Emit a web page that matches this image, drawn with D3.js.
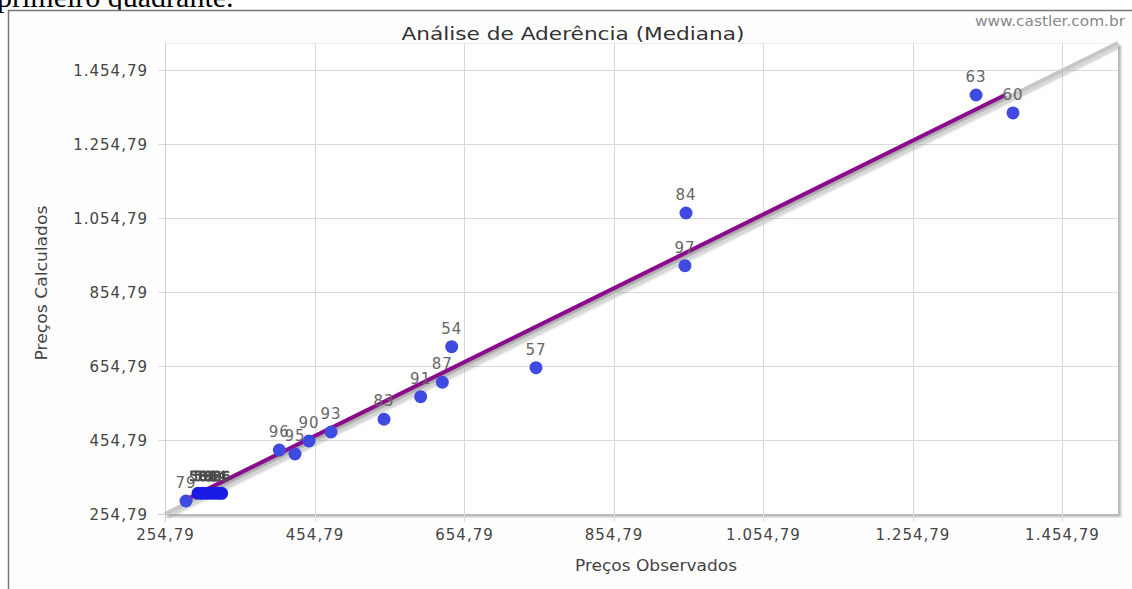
<!DOCTYPE html>
<html><head><meta charset="utf-8">
<script src="https://cdn.jsdelivr.net/npm/d3@7"></script>
<style>
html,body{margin:0;padding:0;background:#fff;overflow:hidden;}
svg{display:block;}
</style></head>
<body>
<svg id="chart" width="1132" height="589"></svg>
<script>
// ---- data ----
const pointIds  = ["63","60","84","97","54","57","87","91","83","93","90","95","96","79","58","59","61","62","64","66"];
const observed  = [1339.8,1389.2,951.8,950.4,638.3,751.1,625.8,596.8,547.8,476.9,447.4,428.7,407.7,282.9,299.0,305.5,312.0,318.5,325.0,330.5];
const calculated= [1387.2,1338.6,1068.3,925.8,707.0,650.3,610.8,571.8,510.8,476.4,452.1,417.0,427.8,289.9,310.7,310.7,310.7,310.7,310.7,310.7];
const tickValues = [254.79,454.79,654.79,854.79,1054.79,1254.79,1454.79];
const xDomain = [254.79,1529.7];
const yDomain = [254.79,1527.7];
const fitX = [282.9,1378.5];      // regression line endpoints (observed)
const fitY = [293.6,1387.2];      // regression line endpoints (calculated)
const clusterIds = ["58","59","61","62","64","66"];

const svg = d3.select("#chart");
const W = 1132, H = 589;
const loc = d3.formatLocale({decimal:",", thousands:".", grouping:[3], currency:["R$",""]});
const fmt = loc.format(",.2f");
const SANS = "'DejaVu Sans',Verdana,sans-serif";

// document text above the chart box (cut off)
svg.append("text").attr("x",-3).attr("y",7)
  .style("font-family","'Liberation Serif',serif").style("font-size","30px").attr("fill","#000")
  .text("primeiro quadrante.");

// chart container
svg.append("rect").attr("x",8.5).attr("y",10.5).attr("width",W+20).attr("height",H+20)
  .attr("fill","#fefefe").attr("stroke","#777").attr("stroke-width",1.5);

const x = d3.scaleLinear().domain(xDomain).range([165,1118]);
const y = d3.scaleLinear().domain(yDomain).range([514,43]);

const defs = svg.append("defs");
const f = defs.append("filter").attr("id","blur").attr("x","-5%").attr("y","-5%").attr("width","110%").attr("height","110%");
f.append("feGaussianBlur").attr("stdDeviation",1.2);
const f2 = defs.append("filter").attr("id","lblur");
f2.append("feGaussianBlur").attr("stdDeviation",0.6);

const x0 = x.range()[0], x1 = x.range()[1], y0 = y.range()[0], y1 = y.range()[1];

// plot shadow
svg.append("rect").attr("x",x0+3).attr("y",y1+3).attr("width",x1-x0).attr("height",y0-y1)
  .attr("fill","#b8b8b8").attr("filter","url(#blur)");
svg.append("rect").attr("x",x0).attr("y",y1).attr("width",x1-x0).attr("height",y0-y1)
  .attr("fill","#fff");
svg.append("line").attr("x1",x0).attr("x2",x1).attr("y1",y1+0.5).attr("y2",y1+0.5).attr("stroke","#eee");

// grid
const grid = svg.append("g");
grid.selectAll(".vg").data(tickValues.slice(1)).join("line")
  .attr("x1",d=>Math.round(x(d))+0.5).attr("x2",d=>Math.round(x(d))+0.5)
  .attr("y1",y1).attr("y2",y0+8).attr("stroke","#d9d9d9");
grid.selectAll(".hg").data(tickValues.slice(1)).join("line")
  .attr("y1",d=>Math.round(y(d))+0.5).attr("y2",d=>Math.round(y(d))+0.5)
  .attr("x1",x0-7).attr("x2",x1).attr("stroke","#d9d9d9");
svg.append("line").attr("x1",x0+0.5).attr("x2",x0+0.5).attr("y1",y1).attr("y2",y0+8).attr("stroke","#d0d0d0");
svg.append("line").attr("x1",x0-7).attr("x2",x0).attr("y1",y0+0.5).attr("y2",y0+0.5).attr("stroke","#d0d0d0");

// axes labels via d3 axes
const xAxis = svg.append("g").attr("transform",`translate(0,${y0})`)
  .call(d3.axisBottom(x).tickValues(tickValues).tickFormat(fmt).tickSize(0).tickPadding(15));
const yAxis = svg.append("g").attr("transform",`translate(${x0},0)`)
  .call(d3.axisLeft(y).tickValues(tickValues).tickFormat(fmt).tickSize(0).tickPadding(17));
[xAxis,yAxis].forEach(a=>{
  a.select(".domain").remove();
  a.selectAll("text").style("font-family",SANS).style("font-size","15px")
    .style("letter-spacing","1px").attr("fill","#444");
});
xAxis.selectAll("text").attr("dy","0.71em");
yAxis.selectAll("text").attr("dy","0.35em");

// reference line y = x (gray, with shadow)
svg.append("line").attr("x1",x0+2).attr("y1",y0+3).attr("x2",x1+2).attr("y2",y1+3)
  .attr("stroke","#999").attr("stroke-width",4).attr("opacity",0.45).attr("filter","url(#blur)");
svg.append("line").attr("x1",x0).attr("y1",y0).attr("x2",x1).attr("y2",y1)
  .attr("stroke","#c6c6c6").attr("stroke-width",4);

// regression line (purple)
svg.append("line").attr("x1",x(fitX[0])+1).attr("y1",y(fitY[0])+2).attr("x2",x(fitX[1])+1).attr("y2",y(fitY[1])+2)
  .attr("stroke","#555").attr("stroke-width",3.5).attr("opacity",0.3).attr("filter","url(#blur)");
svg.append("line").attr("x1",x(fitX[0])).attr("y1",y(fitY[0])).attr("x2",x(fitX[1])).attr("y2",y(fitY[1]))
  .attr("stroke","#8c0a8c").attr("stroke-width",4);

// points
const pts = pointIds.map((id,i)=>({id,ox:observed[i],cy:calculated[i],cl:clusterIds.includes(id)}));
svg.append("g").selectAll("circle").data(pts).join("circle")
  .attr("cx",d=>x(d.ox)).attr("cy",d=>y(d.cy)).attr("r",6.5)
  .attr("fill",d=>d.cl?"#1a1ae6":"#3f4be0");

// labels
const lg = svg.append("g");
lg.selectAll("text.lab").data(pts.filter(d=>!d.cl)).join("text")
  .attr("x",d=>x(d.ox)).attr("y",d=>y(d.cy)-13).attr("text-anchor","middle")
  .style("font-family",SANS).style("font-size","15px").style("letter-spacing","1px").attr("fill","#666")
  .text(d=>d.id);
lg.selectAll("text.cl").data(pts.filter(d=>d.cl)).join("text")
  .attr("x",d=>x(d.ox)).attr("y",d=>y(d.cy)-12).attr("text-anchor","middle")
  .style("font-family",SANS).style("font-size","14px")
  .attr("fill","#333").attr("stroke","#555").attr("stroke-width",0.8).attr("filter","url(#lblur)")
  .text(d=>d.id);

// titles
svg.append("text").attr("x",573).attr("y",40).attr("text-anchor","middle")
  .attr("textLength",343).attr("lengthAdjust","spacingAndGlyphs")
  .style("font-family",SANS).style("font-size","18px").attr("fill","#333")
  .text("Análise de Aderência (Mediana)");
svg.append("text").attr("x",1125).attr("y",26).attr("text-anchor","end")
  .attr("textLength",150).attr("lengthAdjust","spacingAndGlyphs")
  .style("font-family",SANS).style("font-size","13.5px").attr("fill","#888")
  .text("www.castler.com.br");
svg.append("text").attr("x",656).attr("y",571).attr("text-anchor","middle")
  .attr("textLength",162).attr("lengthAdjust","spacingAndGlyphs")
  .style("font-family","'DejaVu Sans Condensed','DejaVu Sans',sans-serif").style("font-size","16.5px").attr("fill","#444")
  .text("Preços Observados");
svg.append("text").attr("transform","translate(47,283) rotate(-90)").attr("text-anchor","middle")
  .attr("textLength",155).attr("lengthAdjust","spacingAndGlyphs")
  .style("font-family","'DejaVu Sans Condensed','DejaVu Sans',sans-serif").style("font-size","16.5px").attr("fill","#444")
  .text("Preços Calculados");
</script>
</body></html>
